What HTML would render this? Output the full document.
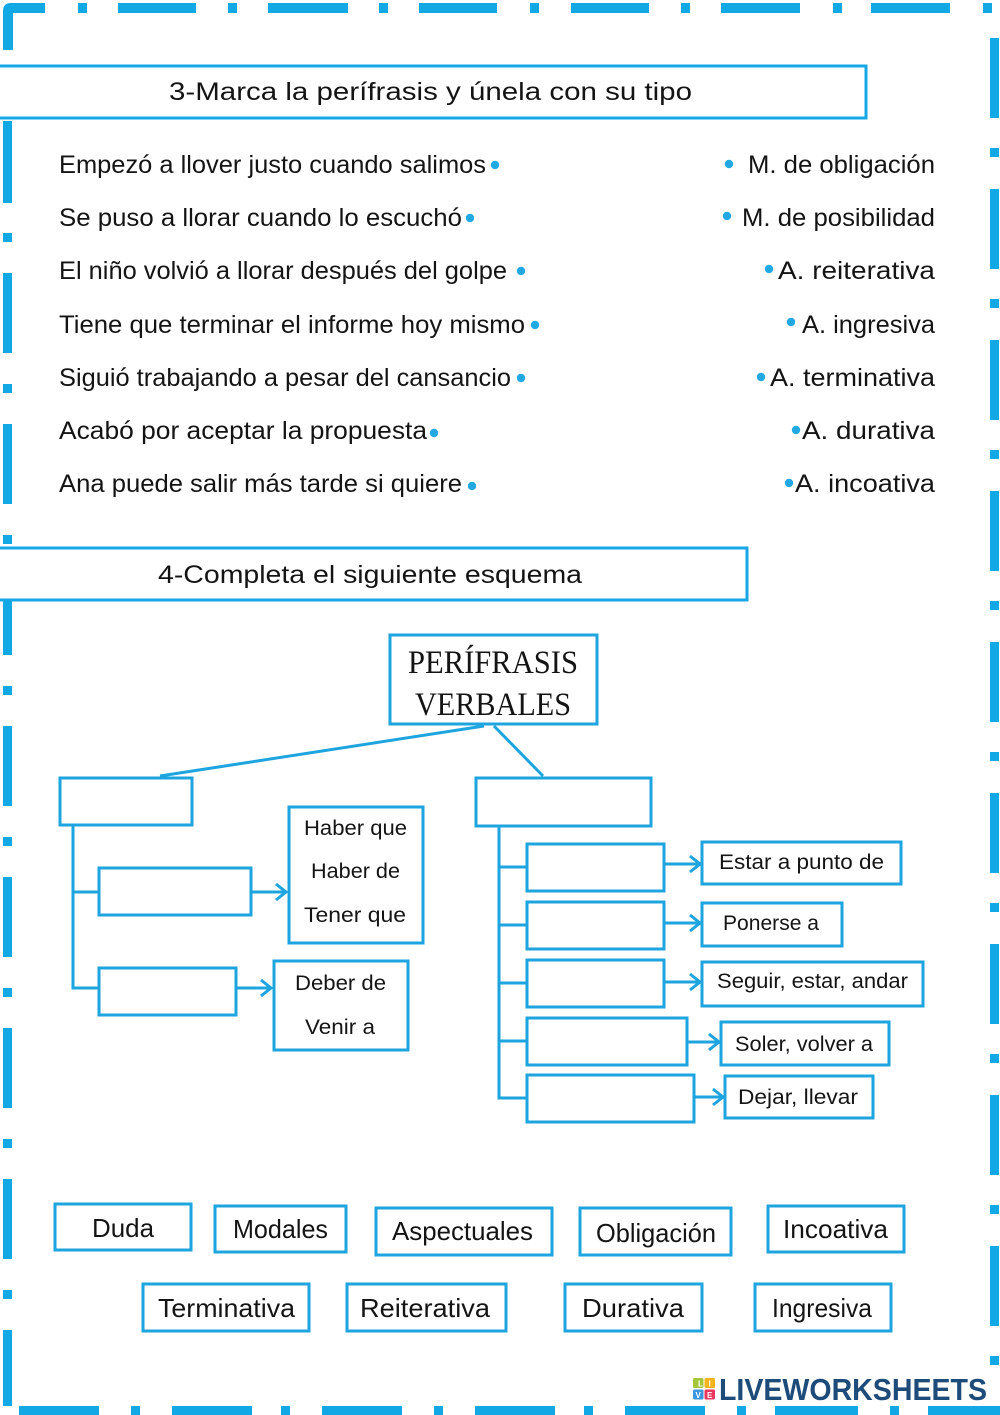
<!DOCTYPE html>
<html>
<head>
<meta charset="utf-8">
<style>
  html,body{margin:0;padding:0;background:#fff;}
  svg{display:block;}
  text{font-family:"Liberation Sans","DejaVu Sans",sans-serif;fill:#141414;}
  text.serif{font-family:"Liberation Serif","DejaVu Serif",serif;}
</style>
</head>
<body>
<svg width="1000" height="1415" viewBox="0 0 1000 1415" xmlns="http://www.w3.org/2000/svg">
  <rect x="0" y="0" width="1000" height="1415" fill="#fff"/>

  <!-- ===== Page border (dash-dot) ===== -->
  <g fill="#12a8e6">
    <path d="M3 50 V11 Q3 3 11 3 H45 V13 H13 V50 Z"/>
    <rect x="78" y="3" width="9" height="10"/>
    <rect x="118" y="3" width="78" height="10"/>
    <rect x="228" y="3" width="9" height="10"/>
    <rect x="268" y="3" width="80" height="10"/>
    <rect x="379" y="3" width="9" height="10"/>
    <rect x="419" y="3" width="78" height="10"/>
    <rect x="530" y="3" width="9" height="10"/>
    <rect x="571" y="3" width="78" height="10"/>
    <rect x="681" y="3" width="9" height="10"/>
    <rect x="721" y="3" width="79" height="10"/>
    <rect x="833" y="3" width="9" height="10"/>
    <rect x="871" y="3" width="79" height="10"/>
    <rect x="983" y="3" width="9" height="10"/>
    <rect x="3" y="121" width="9" height="82"/>
    <rect x="3" y="233" width="9" height="9"/>
    <rect x="3" y="273" width="9" height="80"/>
    <rect x="3" y="384" width="9" height="9"/>
    <rect x="3" y="424" width="9" height="80"/>
    <rect x="3" y="535" width="9" height="9"/>
    <rect x="3" y="600" width="9" height="55"/>
    <rect x="3" y="686" width="9" height="9"/>
    <rect x="3" y="726" width="9" height="80"/>
    <rect x="3" y="837" width="9" height="9"/>
    <rect x="3" y="877" width="9" height="80"/>
    <rect x="3" y="988" width="9" height="9"/>
    <rect x="3" y="1028" width="9" height="80"/>
    <rect x="3" y="1139" width="9" height="9"/>
    <rect x="3" y="1179" width="9" height="80"/>
    <rect x="3" y="1290" width="9" height="9"/>
    <rect x="3" y="1330" width="9" height="76"/>
    <rect x="990" y="38" width="9" height="80"/>
    <rect x="990" y="148" width="9" height="9"/>
    <rect x="990" y="189" width="9" height="80"/>
    <rect x="990" y="299" width="9" height="9"/>
    <rect x="990" y="340" width="9" height="80"/>
    <rect x="990" y="450" width="9" height="9"/>
    <rect x="990" y="491" width="9" height="80"/>
    <rect x="990" y="601" width="9" height="9"/>
    <rect x="990" y="642" width="9" height="80"/>
    <rect x="990" y="752" width="9" height="9"/>
    <rect x="990" y="793" width="9" height="80"/>
    <rect x="990" y="903" width="9" height="9"/>
    <rect x="990" y="944" width="9" height="80"/>
    <rect x="990" y="1054" width="9" height="9"/>
    <rect x="990" y="1095" width="9" height="80"/>
    <rect x="990" y="1205" width="9" height="9"/>
    <rect x="990" y="1246" width="9" height="80"/>
    <rect x="990" y="1356" width="9" height="9"/>
    <rect x="19" y="1406" width="80" height="9"/>
    <rect x="131" y="1406" width="9" height="9"/>
    <rect x="172" y="1406" width="80" height="9"/>
    <rect x="281" y="1406" width="9" height="9"/>
    <rect x="322" y="1406" width="80" height="9"/>
    <rect x="434" y="1406" width="9" height="9"/>
    <rect x="475" y="1406" width="80" height="9"/>
    <rect x="584" y="1406" width="9" height="9"/>
    <rect x="625" y="1406" width="80" height="9"/>
    <rect x="737" y="1406" width="9" height="9"/>
    <rect x="775" y="1406" width="83" height="9"/>
    <rect x="890" y="1406" width="9" height="9"/>
    <rect x="928" y="1406" width="72" height="9"/>
  </g>

  <!-- ===== Section 3 header ===== -->
  <rect x="-5" y="66" width="871" height="52" fill="#fff" stroke="#17a7e4" stroke-width="3"/>
  <text x="169" y="100" font-size="25" textLength="523" lengthAdjust="spacingAndGlyphs">3-Marca la perífrasis y únela con su tipo</text>

  <g font-size="25">
    <text x="59" y="173" textLength="427" lengthAdjust="spacingAndGlyphs">Empezó a llover justo cuando salimos</text>
    <text x="59" y="226" textLength="403" lengthAdjust="spacingAndGlyphs">Se puso a llorar cuando lo escuchó</text>
    <text x="59" y="279" textLength="448" lengthAdjust="spacingAndGlyphs">El niño volvió a llorar después del golpe</text>
    <text x="59" y="333" textLength="466" lengthAdjust="spacingAndGlyphs">Tiene que terminar el informe hoy mismo</text>
    <text x="59" y="386" textLength="452" lengthAdjust="spacingAndGlyphs">Siguió trabajando a pesar del cansancio</text>
    <text x="59" y="439" textLength="368" lengthAdjust="spacingAndGlyphs">Acabó por aceptar la propuesta</text>
    <text x="59" y="492" textLength="403" lengthAdjust="spacingAndGlyphs">Ana puede salir más tarde si quiere</text>

    <text x="748" y="173" textLength="187" lengthAdjust="spacingAndGlyphs">M. de obligación</text>
    <text x="742" y="226" textLength="193" lengthAdjust="spacingAndGlyphs">M. de posibilidad</text>
    <text x="778" y="279" textLength="157" lengthAdjust="spacingAndGlyphs">A. reiterativa</text>
    <text x="802" y="333" textLength="133" lengthAdjust="spacingAndGlyphs">A. ingresiva</text>
    <text x="770" y="386" textLength="165" lengthAdjust="spacingAndGlyphs">A. terminativa</text>
    <text x="802" y="439" textLength="133" lengthAdjust="spacingAndGlyphs">A. durativa</text>
    <text x="795" y="492" textLength="140" lengthAdjust="spacingAndGlyphs">A. incoativa</text>
  </g>
  <g fill="#22a8e2">
    <circle cx="495" cy="165" r="4.2"/>
    <circle cx="470" cy="218" r="4.2"/>
    <circle cx="521" cy="271" r="4.2"/>
    <circle cx="535" cy="325" r="4.2"/>
    <circle cx="521" cy="378" r="4.2"/>
    <circle cx="434" cy="433" r="4.2"/>
    <circle cx="472" cy="486" r="4.2"/>
    <circle cx="729" cy="164" r="4.2"/>
    <circle cx="727" cy="216" r="4.2"/>
    <circle cx="769" cy="269" r="4.2"/>
    <circle cx="791" cy="322" r="4.2"/>
    <circle cx="761" cy="377" r="4.2"/>
    <circle cx="796" cy="430" r="4.2"/>
    <circle cx="789" cy="483" r="4.2"/>
  </g>

  <!-- ===== Section 4 header ===== -->
  <rect x="-5" y="548" width="752" height="52" fill="#fff" stroke="#17a7e4" stroke-width="3"/>
  <text x="158" y="583" font-size="25" textLength="424" lengthAdjust="spacingAndGlyphs">4-Completa el siguiente esquema</text>

  <!-- ===== Diagram ===== -->
  <g fill="none" stroke="#1ea4df" stroke-width="3">
    <rect x="390" y="635" width="207" height="89" fill="#fff"/>
    <line x1="484" y1="726" x2="160" y2="776"/>
    <line x1="494" y1="726" x2="543" y2="776"/>

    <rect x="60" y="778" width="132" height="47" fill="#fff"/>
    <polyline points="73,825 73,988 98,988"/>
    <line x1="73" y1="892" x2="98" y2="892"/>
    <rect x="99" y="868" width="152" height="47" fill="#fff"/>
    <rect x="99" y="968" width="137" height="47" fill="#fff"/>
    <line x1="251" y1="892" x2="285" y2="892"/>
    <polyline points="276,884 286,892 276,900"/>
    <line x1="236" y1="988" x2="270" y2="988"/>
    <polyline points="261,980 271,988 261,996"/>
    <rect x="289" y="807" width="134" height="136" fill="#fff"/>
    <rect x="274" y="961" width="134" height="89" fill="#fff"/>

    <rect x="476" y="778" width="175" height="48" fill="#fff"/>
    <polyline points="499,826 499,1098 527,1098"/>
    <line x1="499" y1="867" x2="527" y2="867"/>
    <line x1="499" y1="925" x2="527" y2="925"/>
    <line x1="499" y1="983" x2="527" y2="983"/>
    <line x1="499" y1="1041" x2="527" y2="1041"/>

    <rect x="527" y="844" width="137" height="47" fill="#fff"/>
    <rect x="527" y="902" width="137" height="47" fill="#fff"/>
    <rect x="527" y="960" width="137" height="47" fill="#fff"/>
    <rect x="527" y="1018" width="160" height="47" fill="#fff"/>
    <rect x="527" y="1075" width="167" height="47" fill="#fff"/>

    <line x1="664" y1="864" x2="699" y2="864"/>
    <polyline points="690,856 700,864 690,872"/>
    <line x1="664" y1="923" x2="699" y2="923"/>
    <polyline points="690,915 700,923 690,931"/>
    <line x1="664" y1="982" x2="699" y2="982"/>
    <polyline points="690,974 700,982 690,990"/>
    <line x1="687" y1="1042" x2="718" y2="1042"/>
    <polyline points="709,1034 719,1042 709,1050"/>
    <line x1="694" y1="1097" x2="722" y2="1097"/>
    <polyline points="713,1089 723,1097 713,1105"/>

    <rect x="702" y="842" width="199" height="42" fill="#fff"/>
    <rect x="702" y="903" width="140" height="43" fill="#fff"/>
    <rect x="702" y="962" width="221" height="44" fill="#fff"/>
    <rect x="721" y="1022" width="168" height="43" fill="#fff"/>
    <rect x="725" y="1076" width="148" height="42" fill="#fff"/>
  </g>

  <text class="serif" x="408" y="673" font-size="33" textLength="170" lengthAdjust="spacingAndGlyphs">PERÍFRASIS</text>
  <text class="serif" x="415" y="715" font-size="33" textLength="156" lengthAdjust="spacingAndGlyphs">VERBALES</text>

  <g font-size="21">
    <text x="304" y="835" textLength="103" lengthAdjust="spacingAndGlyphs">Haber que</text>
    <text x="311" y="878" textLength="89" lengthAdjust="spacingAndGlyphs">Haber de</text>
    <text x="304" y="922" textLength="102" lengthAdjust="spacingAndGlyphs">Tener que</text>
    <text x="295" y="990" textLength="91" lengthAdjust="spacingAndGlyphs">Deber de</text>
    <text x="305" y="1034" textLength="70" lengthAdjust="spacingAndGlyphs">Venir a</text>

    <text x="719" y="869" textLength="165" lengthAdjust="spacingAndGlyphs">Estar a punto de</text>
    <text x="723" y="930" textLength="96" lengthAdjust="spacingAndGlyphs">Ponerse a</text>
    <text x="717" y="988" textLength="191" lengthAdjust="spacingAndGlyphs">Seguir, estar, andar</text>
    <text x="735" y="1051" textLength="138" lengthAdjust="spacingAndGlyphs">Soler, volver a</text>
    <text x="738" y="1104" textLength="120" lengthAdjust="spacingAndGlyphs">Dejar, llevar</text>
  </g>

  <!-- ===== Word bank ===== -->
  <g fill="#fff" stroke="#1ea4df" stroke-width="3">
    <rect x="55" y="1204" width="136" height="46"/>
    <rect x="215" y="1206" width="131" height="46"/>
    <rect x="376" y="1208" width="176" height="47"/>
    <rect x="580" y="1208" width="151" height="47"/>
    <rect x="768" y="1206" width="136" height="46"/>
    <rect x="143" y="1284" width="166" height="47"/>
    <rect x="347" y="1284" width="159" height="47"/>
    <rect x="565" y="1284" width="137" height="47"/>
    <rect x="755" y="1284" width="136" height="47"/>
  </g>
  <g font-size="26">
    <text x="92" y="1237" textLength="62" lengthAdjust="spacingAndGlyphs">Duda</text>
    <text x="233" y="1238" textLength="95" lengthAdjust="spacingAndGlyphs">Modales</text>
    <text x="392" y="1240" textLength="141" lengthAdjust="spacingAndGlyphs">Aspectuales</text>
    <text x="596" y="1242" textLength="120" lengthAdjust="spacingAndGlyphs">Obligación</text>
    <text x="783" y="1238" textLength="105" lengthAdjust="spacingAndGlyphs">Incoativa</text>
    <text x="158" y="1317" textLength="137" lengthAdjust="spacingAndGlyphs">Terminativa</text>
    <text x="360" y="1317" textLength="130" lengthAdjust="spacingAndGlyphs">Reiterativa</text>
    <text x="582" y="1317" textLength="102" lengthAdjust="spacingAndGlyphs">Durativa</text>
    <text x="772" y="1317" textLength="100" lengthAdjust="spacingAndGlyphs">Ingresiva</text>
  </g>

  <!-- ===== Logo ===== -->
  <g>
    <rect x="693" y="1378" width="10.5" height="10" rx="1.5" fill="#a5c63b"/>
    <rect x="704.5" y="1378" width="10.5" height="10" rx="1.5" fill="#f4b41a"/>
    <rect x="693" y="1389.5" width="10.5" height="10" rx="1.5" fill="#3d97e0"/>
    <rect x="704.5" y="1389.5" width="10.5" height="10" rx="1.5" fill="#e8365f"/>
    <text x="698" y="1386.5" font-size="8" font-weight="bold" style="fill:#fff">L</text>
    <text x="708.5" y="1386.5" font-size="8" font-weight="bold" style="fill:#fff">I</text>
    <text x="695.5" y="1398" font-size="8" font-weight="bold" style="fill:#fff">V</text>
    <text x="707" y="1398" font-size="8" font-weight="bold" style="fill:#fff">E</text>
    <text x="719" y="1400" font-size="31" font-weight="bold" textLength="268" lengthAdjust="spacingAndGlyphs" style="fill:#1d4b7a">LIVEWORKSHEETS</text>
  </g>
</svg>
</body>
</html>
